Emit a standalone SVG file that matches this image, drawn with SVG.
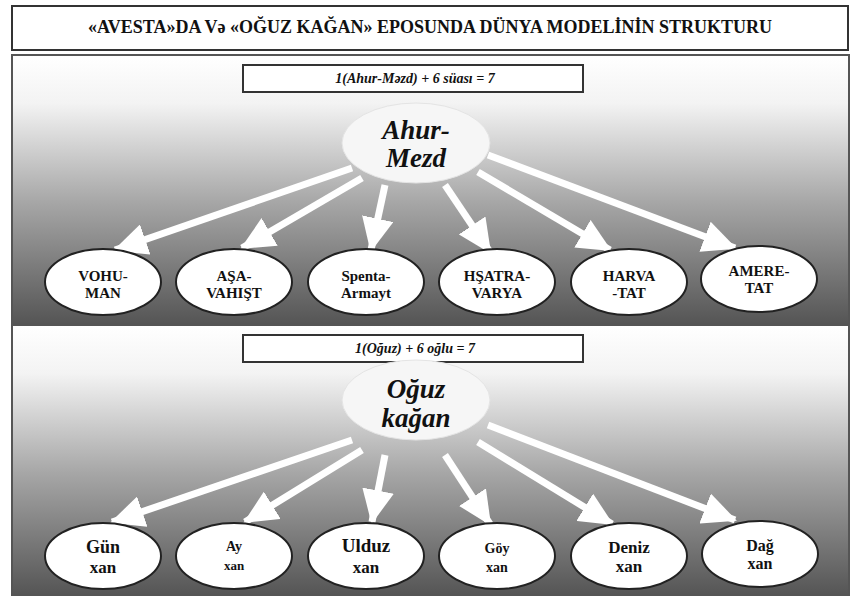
<svg xmlns="http://www.w3.org/2000/svg" width="857" height="598" viewBox="0 0 857 598">
<defs>
<linearGradient id="pg" x1="0" y1="0" x2="0" y2="1">
<stop offset="0" stop-color="#ffffff"/>
<stop offset="0.18" stop-color="#f3f3f3"/>
<stop offset="0.55" stop-color="#a6a6a6"/>
<stop offset="1" stop-color="#555555"/>
</linearGradient>
<marker id="ah" markerUnits="userSpaceOnUse" markerWidth="34" markerHeight="32" viewBox="0 0 34 32" refX="32" refY="16" orient="auto">
<path d="M0,0 L34,16 L0,32 Z" fill="#ffffff"/>
</marker>
<style>
.box{fill:#ffffff;stroke:#333;stroke-width:2}
.panel{fill:url(#pg);stroke:#555;stroke-width:2}
text{font-family:'Liberation Serif','Times New Roman',Tinos,serif;font-weight:bold;fill:#111;text-anchor:middle}
.title{font-size:18px}
.sub{font-style:italic;font-size:14px}
.center{fill:#f6f6f6;stroke:#e4e4e4;stroke-width:1}
.ct{font-style:italic;font-size:27px}
.node{fill:#ffffff;stroke:#222;stroke-width:2}
.nt{font-size:15px}
.arr{stroke:#ffffff;stroke-width:7;fill:none;marker-end:url(#ah)}
</style>
</defs>
<g id="title">
<rect x="12" y="6" width="836" height="44" class="box"/>
<text x="430" y="33" class="title">«AVESTA»DA Və «OĞUZ KAĞAN» EPOSUNDA DÜNYA MODELİNİN STRUKTURU</text>
</g>
<g id="panel1">
<rect x="12" y="55" width="837" height="269" class="panel"/>
</g>
<g id="panel2">
<rect x="12" y="325" width="837" height="270" class="panel"/>
</g>
<g id="connectors">
<line x1="352" y1="168" x2="115" y2="250" class="arr"/>
<line x1="362" y1="178" x2="242" y2="248" class="arr"/>
<line x1="385" y1="185" x2="371" y2="250" class="arr"/>
<line x1="445" y1="185" x2="490" y2="252" class="arr"/>
<line x1="478" y1="172" x2="610" y2="250" class="arr"/>
<line x1="488" y1="155" x2="735" y2="248" class="arr"/>
<line x1="352" y1="440" x2="112" y2="522" class="arr"/>
<line x1="362" y1="450" x2="245" y2="522" class="arr"/>
<line x1="385" y1="455" x2="372" y2="522" class="arr"/>
<line x1="445" y1="455" x2="490" y2="524" class="arr"/>
<line x1="478" y1="442" x2="612" y2="524" class="arr"/>
<line x1="488" y1="425" x2="735" y2="520" class="arr"/>
</g>
<g id="sub1">
<rect x="243" y="65" width="340" height="27" class="box"/>
<text x="415" y="83" class="sub">1(Ahur-Məzd) + 6 süası = 7</text>
</g>
<g id="ahur-mezd">
<ellipse cx="416" cy="143" rx="74" ry="40" class="center"/>
<text x="416" y="139" class="ct">Ahur-</text>
<text x="416" y="167" class="ct">Mezd</text>
</g>
<g id="vohuman">
<ellipse cx="103" cy="282" rx="58" ry="33" class="node"/>
<text x="103" y="281" class="nt">VOHU-</text>
<text x="103" y="298" class="nt">MAN</text>
</g>
<g id="asavahist">
<ellipse cx="234" cy="282" rx="58" ry="33" class="node"/>
<text x="234" y="281" class="nt">AŞA-</text>
<text x="234" y="298" class="nt">VAHIŞT</text>
</g>
<g id="spenta">
<ellipse cx="366" cy="282" rx="58" ry="33" class="node"/>
<text x="366" y="281" class="nt">Spenta-</text>
<text x="366" y="298" class="nt">Armayt</text>
</g>
<g id="hsatra">
<ellipse cx="497" cy="282" rx="58" ry="33" class="node"/>
<text x="497" y="281" class="nt">HŞATRA-</text>
<text x="497" y="298" class="nt">VARYA</text>
</g>
<g id="harvatat">
<ellipse cx="629" cy="282" rx="58" ry="33" class="node"/>
<text x="629" y="281" class="nt">HARVA</text>
<text x="629" y="298" class="nt">-TAT</text>
</g>
<g id="ameretat">
<ellipse cx="759" cy="279" rx="58" ry="33" class="node"/>
<text x="759" y="276" class="nt">AMERE-</text>
<text x="759" y="293" class="nt">TAT</text>
</g>
<g id="sub2">
<rect x="243" y="335" width="340" height="27" class="box"/>
<text x="415" y="353" class="sub">1(Oğuz) + 6 oğlu = 7</text>
</g>
<g id="oguz-kagan">
<ellipse cx="416" cy="400" rx="74" ry="40" class="center"/>
<text x="416" y="398" class="ct">Oğuz</text>
<text x="416" y="427" class="ct">kağan</text>
</g>
<g id="gun">
<ellipse cx="103" cy="556" rx="58" ry="33" class="node"/>
<text x="103" y="553" class="nt" style="font-size:18px">Gün</text>
<text x="103" y="573" class="nt" style="font-size:17px">xan</text>
</g>
<g id="ay">
<ellipse cx="234" cy="556" rx="58" ry="33" class="node"/>
<text x="234" y="551" class="nt" style="font-size:14px">Ay</text>
<text x="234" y="570" class="nt" style="font-size:13px">xan</text>
</g>
<g id="ulduz">
<ellipse cx="366" cy="556" rx="58" ry="33" class="node"/>
<text x="366" y="552" class="nt" style="font-size:19px">Ulduz</text>
<text x="366" y="573" class="nt" style="font-size:17px">xan</text>
</g>
<g id="goy">
<ellipse cx="497" cy="556" rx="58" ry="33" class="node"/>
<text x="497" y="553" class="nt" style="font-size:14px">Göy</text>
<text x="497" y="572" class="nt" style="font-size:14px">xan</text>
</g>
<g id="deniz">
<ellipse cx="629" cy="556" rx="58" ry="33" class="node"/>
<text x="629" y="553" class="nt" style="font-size:17px">Deniz</text>
<text x="629" y="572" class="nt" style="font-size:17px">xan</text>
</g>
<g id="dag">
<ellipse cx="760" cy="554" rx="58" ry="33" class="node"/>
<text x="760" y="551" class="nt" style="font-size:16px">Dağ</text>
<text x="760" y="569" class="nt" style="font-size:16px">xan</text>
</g>
</svg>
